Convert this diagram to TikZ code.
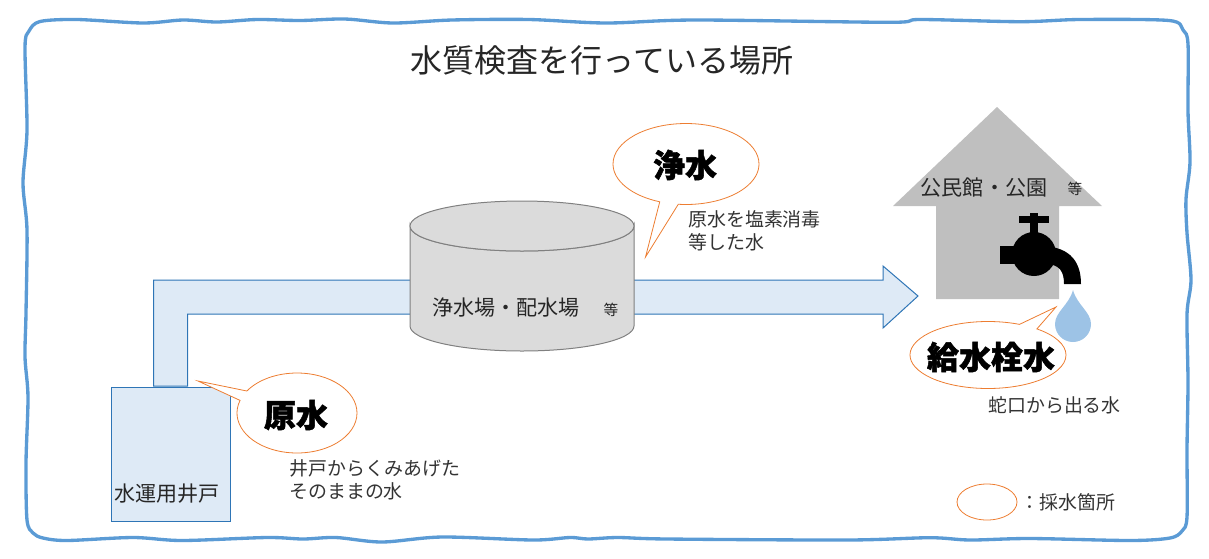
\documentclass[tikz,border=0pt]{standalone}
\usepackage{fontspec}
\setmainfont{Noto Sans CJK JP}[BoldFeatures={FakeBold=1.6}]
\usetikzlibrary{shapes.geometric,shapes.callouts}

\definecolor{pipeblue}{HTML}{DEEAF6}
\definecolor{pipeedge}{HTML}{2E75B6}
\definecolor{frameblue}{HTML}{5B9BD5}
\definecolor{spotorange}{HTML}{ED7D31}
\definecolor{tankgray}{HTML}{DBDBDB}
\definecolor{housegray}{HTML}{BFBFBF}
\definecolor{dropblue}{HTML}{9DC3E6}

\tikzset{
  spot/.style={ellipse callout,draw=spotorange,fill=white,line width=.6pt,inner sep=0pt},
  spottext/.style={inner sep=0pt,text=black,font=\fontsize{24}{24}\selectfont\bfseries},
  note/.style={align=left,anchor=west,inner sep=0pt,text=black!80,font=\fontsize{14.2}{17.2}\selectfont},
  place/.style={inner sep=0pt,text=black!85,font=\fontsize{15.8}{15.8}\selectfont},
  more/.style={inner sep=0pt,text=black!85,font=\fontsize{11}{11}\selectfont}
}

\begin{document}
\begin{tikzpicture}[x=.75pt,y=-.75pt]
  \useasboundingbox (0,0) rectangle (1209,558);

  % frame
  \draw[frameblue,line width=2.5pt,smooth cycle,tension=.5] plot coordinates {
    (40,21.5) (77,19.5) (143,23) (183,20) (217,22) (257,19.5) (300,20.5) (345,19) (393,23) (452,20) (529,19.5)
    (606,23) (695,20) (890,22.3) (920,19.5) (1020,21.7) (1080,19.5) (1169,20.5)
    (1183,30) (1188,44) (1188,111) (1190,162) (1186,199) (1187,233) (1191,280) (1187,314) (1188,382) (1187,449) (1187,517)
    (1182,531) (1170,538) (1130,540.5) (1030,538.5) (970,540) (930,537.7) (848,540) (667,539) (618,537.5) (588,539) (570,537.5)
    (533,540) (442,537) (382,542) (336,537.5) (303,539) (267,537.5) (182,540.5) (133,537.5) (67,540.5)
    (43,538) (33,533) (27,520) (26,463) (28,397) (25,357) (26,313) (27,230) (23,183) (27,130) (25,47) (29,31)
  };

  \node[font=\fontsize{24}{24}\selectfont,text=black!85,inner sep=0pt] (title) at (602,60) {水質検査を行っている場所};

  % pipe from the well to the tap
  \draw[pipeedge,fill=pipeblue,line width=.75pt] (153.5,386) -- (153.5,280) -- (883,280) -- (883,266)
    -- (918,296) -- (883,328) -- (883,314) -- (187.5,314) -- (187.5,386) -- cycle;

  % well
  \node[rectangle,draw=pipeedge,fill=pipeblue,line width=.75pt,minimum width=119pt*.75,minimum height=134pt*.75] (well) at (171,454) {};
  \node[place] (welltext) at (167,494) {水運用井戸};

  % tank
  \draw[black!50,fill=tankgray,line width=.75pt] (410,226) -- (410,326) arc[start angle=180,end angle=0,x radius=112,y radius=25]
    -- (634,226) arc[start angle=0,end angle=180,x radius=112,y radius=25] -- cycle;
  \draw[black!50,fill=tankgray,line width=.75pt] (522,226) ellipse[x radius=112,y radius=25];
  \node[place] (tanktext) at (506,308) {浄水場・配水場};
  \node[more] (tankmore) at (611,310) {等};

  % house
  \fill[housegray] (997,107) -- (1102,206) -- (1059,206) -- (1059,299) -- (936,299) -- (936,206) -- (893,206) -- cycle;
  \node[place] (housetext) at (984,188) {公民館・公園};
  \node[more] (housemore) at (1075,189) {等};

  % tap
  \fill[black] (1019,216) rectangle (1049,223);
  \fill[black] (1030,213) rectangle (1038,240);
  \fill[black] (1034,254) circle (22);
  \fill[black] (1000,246) rectangle (1030,264);
  \fill[black] (1040,246) .. controls (1066,246) and (1081,258) .. (1081,284) -- (1064,284)
    .. controls (1064,272) and (1060,264) .. (1045,264) -- cycle;

  % drop
  \fill[dropblue] (1073,290) .. controls (1077,305) and (1091,312) .. (1091,324)
    arc[start angle=0,end angle=180,radius=18] .. controls (1055,312) and (1069,305) .. (1073,290) -- cycle;

  % sampling spots
  \node[spot,minimum width=120pt*.75,minimum height=80pt*.75,callout absolute pointer={(198,381)}] (rawspot) at (297,413) {};
  \node[spot,minimum width=146pt*.75,minimum height=81pt*.75,callout absolute pointer={(645.5,257)}] (cleanspot) at (686,164) {};
  \node[spot,minimum width=156pt*.75,minimum height=67pt*.75,callout absolute pointer={(1056,307)}] (tapspot) at (988,355) {};
  \node[spottext] (raw) at (296,415) {原水};
  \node[spottext] (clean) at (685,165) {浄水};
  \node[spottext] (tap) at (991,357) {給水栓水};

  \node[note] (rawnote) at (289,479.5) {井戸からくみあげた\\そのままの水};
  \node[note] (cleannote) at (688,231) {原水を塩素消毒\\等した水};
  \node[note] (tapnote) at (988,405) {蛇口から出る水};

  % legend
  \node[ellipse,draw=spotorange,line width=.6pt,minimum width=60pt*.75,minimum height=36pt*.75,inner sep=0pt] (legend) at (987,502) {};
  \node[note] (legendtext) at (1020,502) {：採水箇所};
\end{tikzpicture}
\end{document}
